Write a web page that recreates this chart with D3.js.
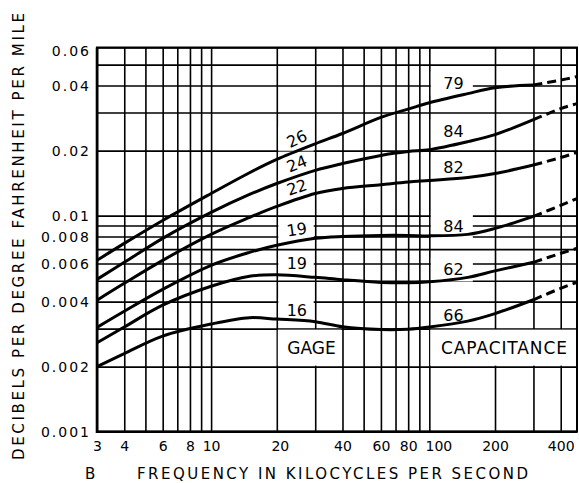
<!DOCTYPE html>
<html>
<head>
<meta charset="utf-8">
<script src="https://cdn.jsdelivr.net/npm/d3@7"></script>
<style>
body{margin:0;background:#fff;}
text{font-family:"DejaVu Sans",sans-serif;fill:#000;}
</style>
</head>
<body>
<div id="chart"></div>
<script>
const freqs = [3,4,6,10,15,20,30,40,60,80,100,150,200,300,400,475];

// gage label -> capacitance label for each curve
const gageLabels = ["26","24","22","19","19","16"];
const capLabels = ["79","84","82","84","62","66"];

// db per deg F per mile
const c26 = [0.00621,0.00744,0.0095,0.01266,0.0158,0.0182,0.0215,0.024,0.0285,0.0311,0.0333,0.0367,0.0391,0.0402,0.0424,0.044];
const c24 = [0.00507,0.00608,0.00785,0.01035,0.01253,0.01408,0.0162,0.01742,0.019,0.0198,0.0202,0.022,0.0237,0.0278,0.0313,0.033];
const c22 = [0.00406,0.00486,0.00621,0.00819,0.00981,0.01103,0.01266,0.01336,0.0139,0.0143,0.01454,0.015,0.01566,0.01715,0.01857,0.0196];
const c19a = [0.00304,0.00361,0.00456,0.00589,0.00676,0.00729,0.00785,0.00801,0.0081,0.0081,0.00806,0.00819,0.00873,0.00992,0.01115,0.012];
const c19b = [0.00258,0.00305,0.00385,0.00471,0.00524,0.00532,0.00518,0.00505,0.00491,0.00489,0.00494,0.00518,0.00555,0.00608,0.00669,0.00706];
const c16 = [0.002,0.0023,0.00277,0.00315,0.00337,0.00332,0.00323,0.00306,0.00297,0.00298,0.00305,0.00325,0.00352,0.00408,0.00461,0.00491];
const curves = [c26,c24,c22,c19a,c19b,c16];

// where the labels sit (freq, value, angle)
const gageAt = [[24.7,0.0227,-25],[24.7,0.0174,-22],[24.7,0.01354,-18],[24.7,0.00864,-8],[24.7,0.006,0],[24.7,0.00365,0]];
const capAt = [[129,0.0409],[129,0.0246],[129,0.01675],[129,0.00892],[129,0.00563],[129,0.00346]];

const xGrid = [3,4,5,6,7,8,9,10,20,30,40,50,60,70,80,90,100,200,300,400];
const yGrid = [0.001,0.002,0.003,0.004,0.005,0.006,0.007,0.008,0.009,0.01,0.02,0.03,0.04,0.05,0.06];
const xTicks = [3,4,6,8,10,20,40,60,80,100,200,400];
const yTicks = [0.001,0.002,0.004,0.006,0.008,0.01,0.02,0.04,0.06];
const dashFrom = 300;

const width = 579, height = 483;
const pL = 97, pR = 577, pT = 47.5, pB = 431.7;

const svg = d3.select("#chart").append("svg")
    .attr("width", width).attr("height", height);

const x = d3.scaleLog().domain([3, 475]).range([pL, pR]);
const y = d3.scaleLog().domain([0.001, 0.06]).range([pB, pT]);

// grid
svg.append("g")
   .attr("transform", `translate(0,${pB})`)
   .call(d3.axisBottom(x).tickValues(xGrid).tickSize(-(pB - pT)).tickFormat(""))
   .call(g => g.select(".domain").remove())
   .selectAll("line").attr("stroke", "#000").attr("stroke-width", 1.6);

svg.append("g")
   .attr("transform", `translate(${pL},0)`)
   .call(d3.axisLeft(y).tickValues(yGrid).tickSize(-(pR - pL)).tickFormat(""))
   .call(g => g.select(".domain").remove())
   .selectAll("line").attr("stroke", "#000").attr("stroke-width", 1.6);

// frame
svg.append("rect")
   .attr("x", pL).attr("y", pT)
   .attr("width", pR - pL).attr("height", pB - pT)
   .attr("fill", "none").attr("stroke", "#000").attr("stroke-width", 2);
svg.append("path")
   .attr("d", `M${pL},${pT}V${pB}H${pR}`)
   .attr("fill", "none").attr("stroke", "#000").attr("stroke-width", 2.6);

// GAGE / CAPACITANCE boxes
const boxes = [
    {t: "GAGE", x0: 20, x1: 40},
    {t: "CAPACITANCE", x0: 100, x1: 475}
];
boxes.forEach(b => {
    svg.append("rect")
       .attr("x", x(b.x0) + 1).attr("y", y(0.003) + 1)
       .attr("width", x(b.x1) - x(b.x0) - 2)
       .attr("height", y(0.002) - y(0.003) - 2)
       .attr("fill", "#fff");
});
svg.append("text").attr("x", 311.5).attr("y", 354)
   .attr("text-anchor", "middle").attr("font-size", 17).text("GAGE");
svg.append("text").attr("x", 441).attr("y", 354)
   .attr("font-size", 17).attr("textLength", 126).attr("lengthAdjust", "spacing")
   .text("CAPACITANCE");

// white patches behind curve labels
gageAt.forEach(p => {
    svg.append("rect")
       .attr("x", x(20) + 1.5).attr("y", y(p[1]) - 12)
       .attr("width", x(30) - x(20) - 3).attr("height", 24)
       .attr("fill", "#fff");
});
capAt.forEach(p => {
    svg.append("rect")
       .attr("x", x(100) + 1.5).attr("y", y(p[1]) - 12)
       .attr("width", 42).attr("height", 24)
       .attr("fill", "#fff");
});

// curves
const line = d3.line()
    .x(d => x(d[0]))
    .y(d => y(d[1]))
    .curve(d3.curveCatmullRom.alpha(0.5));

curves.forEach(c => {
    const pts = freqs.map((f, i) => [f, c[i]]);
    svg.append("path")
       .attr("d", line(pts.filter(d => d[0] <= dashFrom)))
       .attr("fill", "none").attr("stroke", "#000").attr("stroke-width", 3);
    svg.append("path")
       .attr("d", line(pts.filter(d => d[0] >= dashFrom)))
       .attr("fill", "none").attr("stroke", "#000").attr("stroke-width", 3)
       .attr("stroke-dasharray", "9,5");
});

// curve labels
gageAt.forEach((p, i) => {
    svg.append("text")
       .attr("transform", `translate(${x(p[0])},${y(p[1])}) rotate(${p[2]})`)
       .attr("text-anchor", "middle").attr("dy", "0.36em")
       .attr("font-size", 16).text(gageLabels[i]);
});
capAt.forEach((p, i) => {
    svg.append("text")
       .attr("x", x(p[0])).attr("y", y(p[1]))
       .attr("text-anchor", "middle").attr("dy", "0.36em")
       .attr("font-size", 16).text(capLabels[i]);
});

// tick labels
svg.append("g")
   .attr("transform", `translate(0,${pB})`)
   .call(d3.axisBottom(x).tickValues(xTicks).tickSize(0).tickPadding(9).tickFormat(d3.format("")))
   .call(g => g.select(".domain").remove())
   .selectAll("text")
   .attr("font-family", "DejaVu Sans").attr("font-size", 14)
   .attr("dx", d => d === 100 ? 9 : (d === 20 ? 3 : 0))
   .attr("fill", "#000");

svg.append("g")
   .attr("transform", `translate(${pL},0)`)
   .call(d3.axisLeft(y).tickValues(yTicks).tickSize(0).tickPadding(6).tickFormat(d => String(d)))
   .call(g => g.select(".domain").remove())
   .selectAll("text")
   .attr("font-family", "DejaVu Sans").attr("font-size", 14)
   .attr("y", d => d === 0.06 ? 4 : 0)
   .attr("letter-spacing", 2).attr("fill", "#000");

// axis titles
svg.append("text").attr("x", 85).attr("y", 479)
   .attr("font-size", 15).text("B");
svg.append("text").attr("x", 137).attr("y", 479)
   .attr("font-size", 15).attr("textLength", 391).attr("lengthAdjust", "spacing")
   .text("FREQUENCY IN KILOCYCLES PER SECOND");
svg.append("text")
   .attr("transform", "translate(24,460) rotate(-90)")
   .attr("font-size", 15).attr("textLength", 447).attr("lengthAdjust", "spacing")
   .text("DECIBELS PER DEGREE FAHRENHEIT PER MILE");
</script>
</body>
</html>
